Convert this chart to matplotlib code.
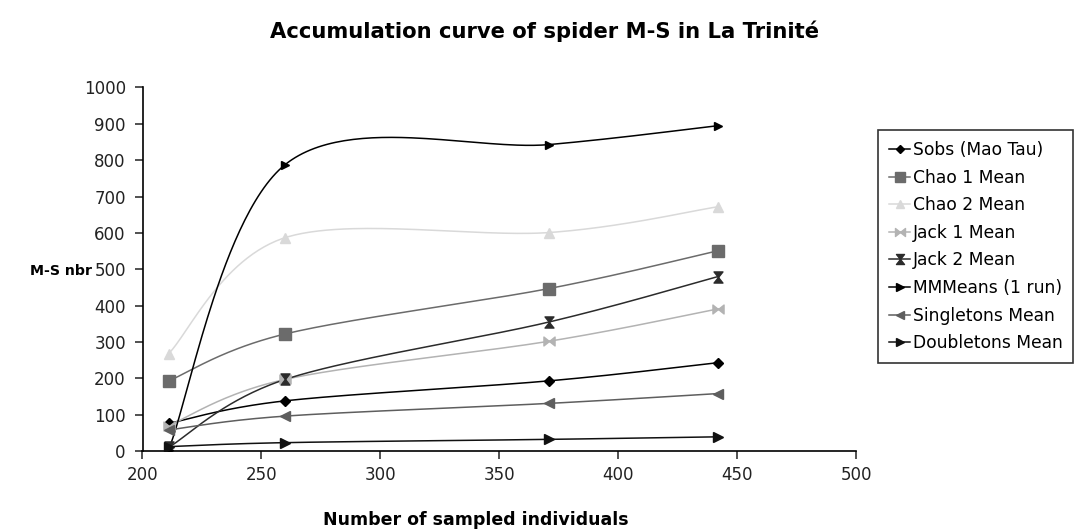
import numpy as np
import matplotlib
matplotlib.use("Agg")
import matplotlib.pyplot as plt
from matplotlib.path import Path

plt.rcParams['font.family'] = ['DejaVu Sans']

# ---- data ----
x_individuals = [211, 260, 371, 442]
sobs = [76, 138, 193, 243]
chao1 = [193, 322, 447, 551]
chao2 = [268, 587, 601, 672]
jack1 = [70, 197, 302, 391]
jack2 = [10, 197, 355, 480]
mmmeans = [4, 788, 843, 895]
singletons = [58, 96, 131, 158]
doubletons = [12, 23, 32, 39]

series_names = ["Sobs (Mao Tau)", "Chao 1 Mean", "Chao 2 Mean", "Jack 1 Mean",
                "Jack 2 Mean", "MMMeans (1 run)", "Singletons Mean", "Doubletons Mean"]
series_values = [sobs, chao1, chao2, jack1, jack2, mmmeans, singletons, doubletons]

# ---- custom markers ----
bowtie = Path([(-1, -0.8), (0, 0), (-1, 0.8), (-1, -0.8), (1, -0.8), (0, 0), (1, 0.8), (1, -0.8)],
              [Path.MOVETO, Path.LINETO, Path.LINETO, Path.CLOSEPOLY,
               Path.MOVETO, Path.LINETO, Path.LINETO, Path.CLOSEPOLY])
hourglass = Path([(-0.8, 1), (0.8, 1), (0, 0), (-0.8, 1), (-0.8, -1), (0.8, -1), (0, 0), (-0.8, -1)],
                 [Path.MOVETO, Path.LINETO, Path.LINETO, Path.CLOSEPOLY,
                  Path.MOVETO, Path.LINETO, Path.LINETO, Path.CLOSEPOLY])

styles = [
    dict(color="#000000", marker="D", ms=5),
    dict(color="#6b6b6b", marker="s", ms=8),
    dict(color="#d9d9d9", marker="^", ms=7),
    dict(color="#b3b3b3", marker=bowtie, ms=8),
    dict(color="#2b2b2b", marker=hourglass, ms=8),
    dict(color="#000000", marker=">", ms=6),
    dict(color="#5e5e5e", marker="<", ms=7),
    dict(color="#111111", marker=">", ms=7),
]


def smooth(xs, ys, n=60):
    P = np.column_stack([xs, ys]).astype(float)
    Pe = np.vstack([P[0], P, P[-1]])
    out = []
    for i in range(len(P) - 1):
        p0, p1, p2, p3 = Pe[i], Pe[i + 1], Pe[i + 2], Pe[i + 3]
        c1 = p1 + (p2 - p0) / 6.0
        c2 = p2 - (p3 - p1) / 6.0
        t = np.linspace(0, 1, n)[:, None]
        seg = ((1 - t) ** 3) * p1 + 3 * ((1 - t) ** 2) * t * c1 + 3 * (1 - t) * t ** 2 * c2 + t ** 3 * p2
        out.append(seg if i == 0 else seg[1:])
    s = np.vstack(out)
    return s[:, 0], s[:, 1]


fig = plt.figure(figsize=(10.74, 5.31), dpi=100)
ax = fig.add_axes([142.5 / 1074, 1 - 451 / 531, (856 - 142.5) / 1074, (451 - 87.5) / 531])

handles = []
for name, vals, st in zip(series_names, series_values, styles):
    sx, sy = smooth(x_individuals, vals)
    ax.plot(sx, sy, color=st["color"], lw=1.1, zorder=2)
    ax.plot(x_individuals, vals, ls="none", marker=st["marker"], ms=st["ms"],
            color=st["color"], mec=st["color"], zorder=3)
    h, = ax.plot([], [], color=st["color"], lw=1.1, marker=st["marker"], ms=st["ms"] * 0.9,
                 mec=st["color"], label=name)
    handles.append(h)

ax.set_xlim(200, 500)
ax.set_ylim(0, 1000)
ax.set_xticks(np.arange(200, 501, 50))
ax.set_yticks(np.arange(0, 1001, 100))
for s in ["top", "right"]:
    ax.spines[s].set_visible(False)
for s in ["left", "bottom"]:
    ax.spines[s].set_color("black")
    ax.spines[s].set_linewidth(1.2)
ax.tick_params(direction="out", length=6, width=1.1, labelsize=12, colors="#222222")
ax.tick_params(axis="y", pad=6)
ax.tick_params(axis="x", pad=5)

fig.text(544 / 1074, 1 - 31 / 531, "Accumulation curve of spider M-S in La Trinité",
         ha="center", va="center", fontsize=15.2, fontweight="bold")
fig.text(92 / 1074, 1 - 271 / 531, "M-S nbr", ha="right", va="center",
         fontsize=10.2, fontweight="bold")
fig.text(476 / 1074, 1 - 520 / 531, "Number of sampled individuals", ha="center",
         va="center", fontsize=12.5, fontweight="bold")

leg = fig.legend(handles=handles, loc="upper left", bbox_to_anchor=(878 / 1074, 1 - 130 / 531),
                 fontsize=12.3, frameon=True, fancybox=False, shadow=False,
                 handlelength=1.25, handletextpad=0.12, labelspacing=0.56,
                 borderpad=0.65, borderaxespad=0)
leg.get_frame().set_edgecolor("black")
leg.get_frame().set_linewidth(1.2)

fig.savefig("out.png", dpi=100)
